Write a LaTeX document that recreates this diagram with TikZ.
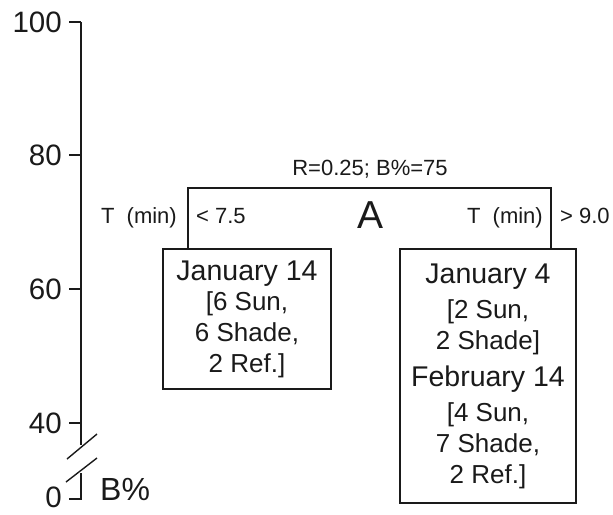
\documentclass[tikz,border=0pt]{standalone}
\usepackage{fontspec}
\setmainfont{Liberation Sans}
\usepackage{tikz}
\usetikzlibrary{positioning,calc}
\definecolor{ink}{HTML}{1A1A1A}

\begin{document}
\begin{tikzpicture}[x=1pt,y=-1pt]
    \tikzset{
      axisline/.style={draw=ink,line width=1.4pt},
      ticklabel/.style={anchor=east,inner sep=0pt,text=ink,font=\fontsize{29.5}{32}\selectfont},
      splitline/.style={draw=ink,line width=1.4pt},
      splitlabel/.style={inner sep=0pt,text=ink,font=\fontsize{22}{24}\selectfont},
      leafbox/.style={draw=ink,line width=1.4pt,align=center,inner sep=0pt,text=ink,font=\fontsize{26}{31}\selectfont}
    }
    \useasboundingbox (0,0) rectangle (613,514);
    % y axis with break
    \draw[axisline] (81,22) -- (81,445);
    \draw[axisline] (81,473) -- (81,499) -- (69,499);
    \draw[axisline] (67,459) -- (97,434);
    \draw[axisline] (66,482) -- (97,458);
    \foreach \val/\ypos in {100/22,80/155,60/289,40/423}{
      \draw[axisline] (69,\ypos) -- (81,\ypos);
      \node[ticklabel] (tick\val) at (62,\ypos) {\val};
    }
    \node[ticklabel] (tick0) at (62,497) {0};
    \node[anchor=base west,inner sep=0pt,text=ink,font=\fontsize{32}{34}\selectfont] (axname) at (100,500) {B\%};
    % leaves
    \node[leafbox,minimum width=168pt,minimum height=140pt] (leafL) at (247,319)
      {{\fontsize{28.5}{31}\selectfont January 14}\\[-1pt] [6 Sun,\\ 6 Shade,\\ 2 Ref.]};
    \node[leafbox,minimum width=176pt,minimum height=254pt] (leafR) at (488,376)
      {{\fontsize{28.5}{31}\selectfont January 4}\\[4pt] [2 Sun,\\ 2 Shade]\\[6pt]
       {\fontsize{28.5}{31}\selectfont February 14}\\[4pt] [4 Sun,\\ 7 Shade,\\ 2 Ref.]};
    % split
    \coordinate (splitL) at (188,188);
    \coordinate (splitR) at (551,188);
    \draw[splitline] (splitL |- leafL.north) -- (splitL) -- (splitR) -- (splitR |- leafR.north);
    \node[splitlabel,anchor=base] (rule) at (370,175) {R=0.25; B\%=75};
    \node[splitlabel,anchor=base east] (varL) at (177,223) {T\hspace{0.55em}(min)};
    \node[splitlabel,anchor=base west] (cutL) at (196,223) {< 7.5};
    \node[splitlabel,anchor=base,font=\fontsize{39}{40}\selectfont] (nodeA) at (371,228) {A};
    \node[splitlabel,anchor=base east] (varR) at (543,223) {T\hspace{0.55em}(min)};
    \node[splitlabel,anchor=base west] (cutR) at (560,223) {> 9.0};
  \end{tikzpicture}
\end{document}
